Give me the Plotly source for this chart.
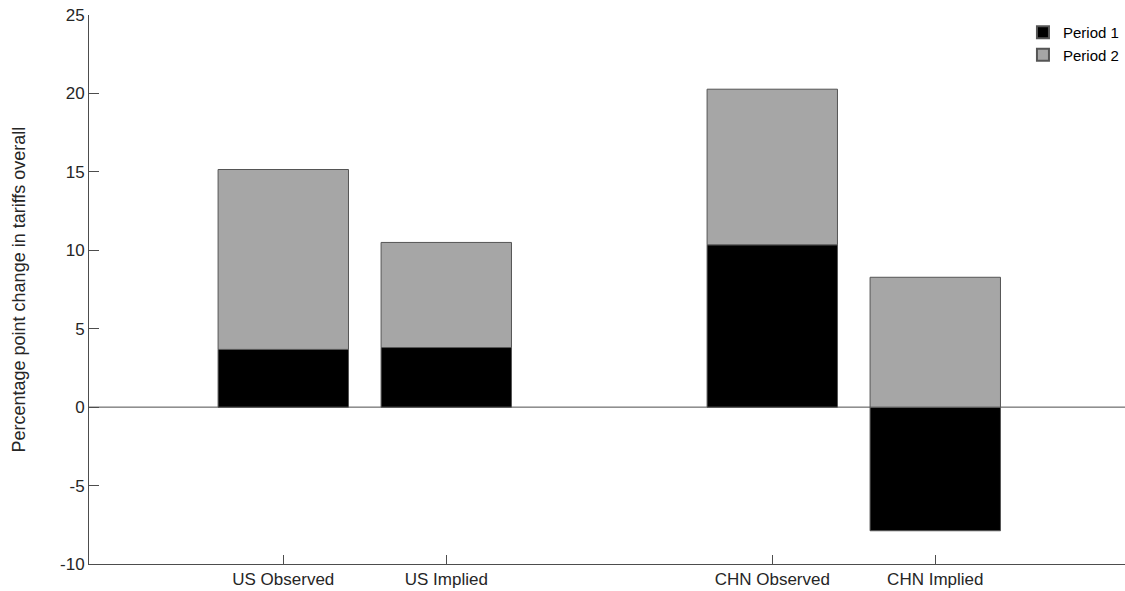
import plotly.graph_objects as go

# Category positions and labels (gap between the US and CHN groups)
categories = ["US Observed", "US Implied", "CHN Observed", "CHN Implied"]
positions = [1, 2, 4, 5]

# Percentage point change in tariffs, by period
period1 = [3.68, 3.80, 10.35, -7.88]
period2 = [11.47, 6.70, 9.92, 8.28]

y_ticks = [-10, -5, 0, 5, 10, 15, 20, 25]
y_tick_labels = ["-10", "-5", "0", "5", "10", "15", "20", "25"]

font_family = "Liberation Sans, Arial, Helvetica, sans-serif"
axis_color = "#4d4d4d"
text_color = "#262626"

fig = go.Figure()
fig.add_trace(go.Bar(
    x=positions, y=period1, name="Period 1", width=0.8,
    marker=dict(color="#000000", line=dict(color="#555555", width=1)),
))
fig.add_trace(go.Bar(
    x=positions, y=period2, name="Period 2", width=0.8,
    marker=dict(color="#a6a6a6", line=dict(color="#555555", width=1)),
))

# Baseline at zero across the whole axis
fig.add_shape(type="line", xref="paper", yref="y", x0=0, x1=1, y0=0, y1=0,
              line=dict(color=axis_color, width=1), layer="below")

fig.update_layout(
    width=1125, height=591,
    barmode="relative",
    plot_bgcolor="white", paper_bgcolor="white",
    margin=dict(l=89, r=0, t=15, b=27, autoexpand=False),
    font=dict(family=font_family, size=17, color=text_color),
    showlegend=True,
    legend=dict(
        x=0.9015, y=0.998, xanchor="left", yanchor="top",
        bgcolor="rgba(0,0,0,0)", borderwidth=0,
        font=dict(size=15, color="#000000"),
        tracegroupgap=0, itemsizing="constant",
    ),
    xaxis=dict(
        range=[-0.192, 6.164],
        tickmode="array", tickvals=positions, ticktext=categories,
        ticks="inside", ticklen=9, tickcolor=axis_color, tickwidth=1,
        showline=True, linecolor=axis_color, linewidth=1,
        showgrid=False, zeroline=False,
    ),
    yaxis=dict(
        range=[-10, 25],
        tickmode="array", tickvals=y_ticks, ticktext=y_tick_labels,
        ticks="inside", ticklen=10, tickcolor=axis_color, tickwidth=1,
        showline=True, linecolor=axis_color, linewidth=1,
        showgrid=False, zeroline=False,
    ),
)

fig.add_annotation(
    text="Percentage point change in tariffs overall",
    xref="paper", yref="paper", x=(18 - 89) / 1036, y=0.5,
    xanchor="center", yanchor="middle", textangle=-90, showarrow=False,
    font=dict(size=18, color=text_color),
)

fig.write_html("out.html")
